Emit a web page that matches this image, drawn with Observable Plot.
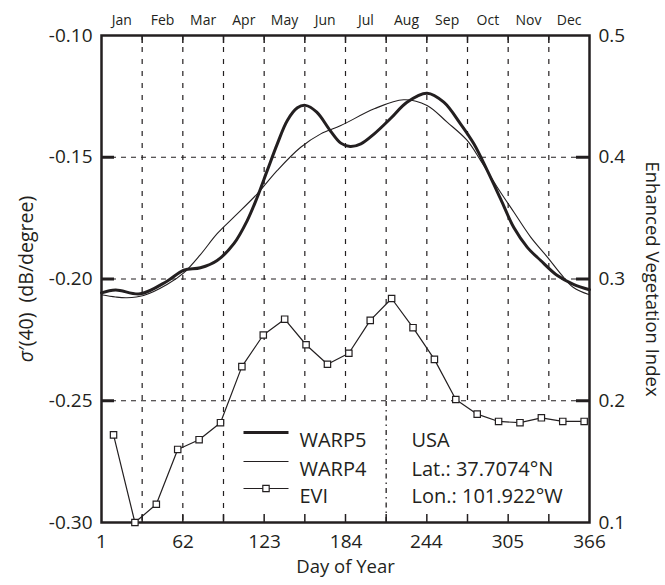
<!DOCTYPE html>
<html><head><meta charset="utf-8">
<script src="https://cdn.jsdelivr.net/npm/d3@7"></script>
<script src="https://cdn.jsdelivr.net/npm/@observablehq/plot@0.6"></script>
<style>body{margin:0;background:#fff} svg text{white-space:pre}</style>
</head><body><div id="chart"></div>
<script>
// ---- data ----
const monthNames = ["Jan","Feb","Mar","Apr","May","Jun","Jul","Aug","Sep","Oct","Nov","Dec"];
const xTickLabels = [1, 62, 123, 184, 244, 305, 366];
const sigmaTicks = [-0.30, -0.25, -0.20, -0.15, -0.10];
const eviTicks = [0.1, 0.2, 0.3, 0.4, 0.5];

const warp5Day = [1, 11.5, 30, 50, 62.5, 75, 87.5, 100, 110, 117.5, 125, 132.5, 140, 147.5, 153.5, 162, 172, 180, 187, 195, 205, 217, 229.5, 244.5, 257, 269.5, 279.5, 289.5, 299.5, 309.5, 319.5, 329.5, 342, 354, 366];
const warp5Val = [-0.2057, -0.2045, -0.2061, -0.2009, -0.1964, -0.1954, -0.1924, -0.1855, -0.1760, -0.1664, -0.1554, -0.1445, -0.1349, -0.1297, -0.1287, -0.1315, -0.1390, -0.1442, -0.1456, -0.1445, -0.1404, -0.1342, -0.1274, -0.1237, -0.1274, -0.1363, -0.1445, -0.1554, -0.1671, -0.1790, -0.1870, -0.1924, -0.1986, -0.2022, -0.2044];

const warp4Day = [1, 11.5, 20, 32.5, 50, 62.5, 75, 87.5, 100, 117.5, 132.5, 150, 165, 180, 205, 227, 244.5, 259.5, 274.5, 284.5, 297, 309.5, 322, 334.5, 344.5, 354, 366];
const warp4Val = [-0.2065, -0.2074, -0.2077, -0.2068, -0.2023, -0.1975, -0.1900, -0.1814, -0.1746, -0.1650, -0.1554, -0.1459, -0.1404, -0.1370, -0.1301, -0.1264, -0.1287, -0.1356, -0.1431, -0.1513, -0.1623, -0.1726, -0.1828, -0.1910, -0.1979, -0.2035, -0.2065];

const eviDay = [10, 26, 42, 58, 74, 90, 106, 122, 138, 154, 170, 186, 202, 218, 234, 250, 266, 282, 298, 314, 330, 346, 362];
const eviVal = [0.172, 0.100, 0.115, 0.160, 0.168, 0.182, 0.228, 0.254, 0.267, 0.246, 0.230, 0.239, 0.266, 0.284, 0.260, 0.234, 0.201, 0.189, 0.183, 0.182, 0.186, 0.183, 0.183];

const legendNames = ["WARP5", "WARP4", "EVI"];
const siteInfo = ["USA", "Lat.: 37.7074°N", "Lon.: 101.922°W"];
const leftTitle = "σ′(40)  (dB/degree)";
const rightTitle = "Enhanced Vegetation Index";
const xTitle = "Day of Year";

// ---- derived ----
const eviToSigma = e => -0.30 + (e - 0.1) / 2;
const sigmaToEvi = s => 0.1 + (s + 0.30) * 2;
const monthEdges = d3.range(13).map(k => 1 + k * 365 / 12);
const monthCenters = d3.range(12).map(k => 1 + (k + 0.5) * 365 / 12);
const warp5 = warp5Day.map((d, i) => ({day: d, v: warp5Val[i]}));
const warp4 = warp4Day.map((d, i) => ({day: d, v: warp4Val[i]}));
const evi = eviDay.map((d, i) => ({day: d, evi: eviVal[i]}));

// ---- layout ----
const W = 665, H = 585, mt = 35, mr = 76, mb = 63, ml = 101;
const fw = W - ml - mr, fh = H - mt - mb;
const ink = "#231f20";
const legendLine = {draw(ctx) { ctx.moveTo(-22.5, 0); ctx.lineTo(22.5, 0); }};
const rowDy = [397, 426, 453];
const rowW = [3, 1.1, 1.2];

const legendMarks = [];
legendNames.forEach((name, i) => {
  legendMarks.push(Plot.dot([0], {frameAnchor: "top-left", dx: 164.5, dy: rowDy[i], symbol: legendLine, r: 1, fill: "none", stroke: ink, strokeWidth: rowW[i]}));
  legendMarks.push(Plot.text([name], {frameAnchor: "top-left", dx: 198, dy: rowDy[i], textAnchor: "start", fontSize: 20, fill: ink}));
});
legendMarks.push(Plot.dot([0], {frameAnchor: "top-left", dx: 164.5, dy: rowDy[2], symbol: "square", r: 3.6, fill: "white", stroke: ink, strokeWidth: 1.2}));
siteInfo.forEach((t, i) => {
  legendMarks.push(Plot.text([t], {frameAnchor: "top-left", dx: 310, dy: rowDy[i], textAnchor: "start", fontSize: 20, fill: ink}));
});

const chart = Plot.plot({
  width: W, height: H,
  marginTop: mt, marginRight: mr, marginBottom: mb, marginLeft: ml,
  style: {fontFamily: "'Open Sans', sans-serif", color: ink, background: "white"},
  x: {domain: [1, 366]},
  y: {domain: [-0.30, -0.10]},
  marks: [
    Plot.ruleX(monthEdges.slice(1, -1), {stroke: ink, strokeWidth: 1.2, strokeDasharray: "5,7"}),
    Plot.ruleY(sigmaTicks.slice(1, -1), {stroke: ink, strokeWidth: 1.2, strokeDasharray: "5,5"}),
    Plot.rect([{x1: 99, x2: 366, y1: -0.30, y2: -0.25}], {x1: "x1", x2: "x2", y1: "y1", y2: "y2", insetTop: 3, fill: "white"}),
    Plot.ruleX([monthEdges[7]], {y1: -0.30, y2: -0.25, stroke: ink, strokeWidth: 1.3, strokeDasharray: "5,4,1.5,4"}),
    Plot.ruleX(monthEdges.slice(1, -1), {insetTop: fh - 8, stroke: ink, strokeWidth: 1.5}),
    Plot.ruleX(monthEdges.slice(1, -1), {insetBottom: fh - 8, stroke: ink, strokeWidth: 1.5}),
    Plot.ruleY(sigmaTicks.slice(1, -1), {insetRight: fw - 13, stroke: ink, strokeWidth: 3}),
    Plot.ruleY(eviTicks.slice(1, -1).map(eviToSigma), {insetLeft: fw - 13, stroke: ink, strokeWidth: 3}),
    Plot.frame({stroke: ink, strokeWidth: 2.5}),
    Plot.line(warp4, {x: "day", y: "v", curve: "catmull-rom", stroke: ink, strokeWidth: 1.1}),
    Plot.line(warp5, {x: "day", y: "v", curve: "catmull-rom", stroke: ink, strokeWidth: 3}),
    Plot.line(evi, {x: "day", y: d => eviToSigma(d.evi), stroke: ink, strokeWidth: 1.2}),
    Plot.dot(evi, {x: "day", y: d => eviToSigma(d.evi), symbol: "square", r: 3.6, fill: "white", stroke: ink, strokeWidth: 1.2}),
    Plot.axisY(sigmaTicks, {anchor: "left", tickSize: 0, tickPadding: 9, tickFormat: d => d.toFixed(2), fontSize: 19, label: null}),
    Plot.axisY(eviTicks.map(eviToSigma), {anchor: "right", tickSize: 0, tickPadding: 9, tickFormat: d => sigmaToEvi(d).toFixed(1), fontSize: 19, label: null}),
    Plot.axisX(xTickLabels, {anchor: "bottom", tickSize: 0, tickPadding: 12, tickFormat: d => String(d), fontSize: 19, label: null}),
    Plot.axisX(monthCenters, {anchor: "top", tickSize: 0, tickPadding: 11, tickFormat: d => monthNames[monthCenters.indexOf(d)], fontSize: 14, label: null}),
    Plot.text([leftTitle], {frameAnchor: "left", dx: -75, rotate: -90, textAnchor: "middle", fontSize: 19.5, fill: ink}),
    Plot.text([rightTitle], {frameAnchor: "right", dx: 62, rotate: 90, textAnchor: "middle", fontSize: 18.5, fill: ink}),
    Plot.text([xTitle], {frameAnchor: "bottom", dy: 50, textAnchor: "middle", fontSize: 18.5, fill: ink}),
    ...legendMarks
  ]
});
document.getElementById("chart").appendChild(chart);
// italic sigma
chart.querySelectorAll("text").forEach(t => {
  if (t.textContent === leftTitle) {
    t.textContent = "";
    const ns = "http://www.w3.org/2000/svg";
    const a = document.createElementNS(ns, "tspan");
    a.setAttribute("font-style", "italic");
    a.textContent = "σ";
    const b = document.createElementNS(ns, "tspan");
    b.textContent = leftTitle.slice(1);
    t.appendChild(a); t.appendChild(b);
  }
});
</script></body></html>
